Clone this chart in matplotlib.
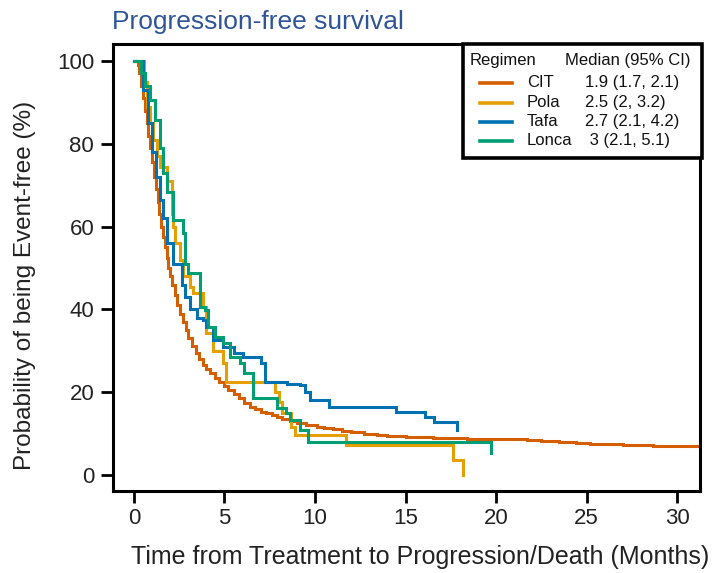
import matplotlib
matplotlib.use("Agg")
import matplotlib.pyplot as plt
from matplotlib.lines import Line2D
from matplotlib.patches import Rectangle

plt.rcParams['font.family'] = ['Liberation Sans', 'DejaVu Sans']

regimens = ["CIT", "Pola", "Tafa", "Lonca"]
medians = ["1.9 (1.7, 2.1)", "2.5 (2, 3.2)", "2.7 (2.1, 4.2)", " 3 (2.1, 5.1)"]
colors = ["#D55E00", "#E69F00", "#0072B2", "#009E73"]

cit_t = [0, 0.1, 0.2, 0.3, 0.4, 0.5, 0.6, 0.7, 0.8, 0.9, 1.0, 1.1, 1.2, 1.3, 1.4, 1.5, 1.6,
         1.7, 1.8, 1.9, 2.0, 2.1, 2.25, 2.4, 2.55, 2.7, 2.85, 3.0, 3.2, 3.4, 3.6, 3.8, 4.0,
         4.2, 4.45, 4.7, 4.95, 5.2, 5.5, 5.8, 6.1, 6.4, 6.7, 7.0, 7.3, 7.6, 7.9, 8.2, 8.6,
         9.0, 9.5, 10.1, 10.5, 11.0, 11.5, 12.0, 12.7, 13.4, 14.0, 14.5, 15.0, 15.6, 16.5,
         17.5, 18.4, 19.3, 20.5, 21.7, 22.5, 23.5, 24.4, 25.2, 27.0, 28.7, 31.3]
cit_s = [100, 100, 99, 97, 94, 91, 88, 85, 82, 79, 75.5, 72, 69, 66, 63, 60, 57.5,
         55, 52.5, 50, 48, 46, 43.5, 41, 39, 37, 35, 33, 31.2, 29.5, 28, 26.5, 25.5,
         24.6, 23.5, 22.5, 21.5, 20.5, 19.5, 18.5, 17.5, 16.5, 15.9, 15.3, 14.9, 14.5, 14.0, 13.5, 13.0,
         12.6, 12.1, 11.6, 11.3, 11.0, 10.7, 10.4, 10.0, 9.7, 9.5, 9.4, 9.3, 9.2, 9.0,
         8.9, 8.8, 8.7, 8.6, 8.5, 8.2, 8.0, 7.7, 7.5, 7.2, 7.0, 7.0]

pola_t = [0, 0.44, 0.55, 0.7, 0.9, 1.05, 1.25, 1.44, 1.8, 2.1, 2.15, 2.26, 2.54, 2.7, 3.1, 3.26,
          3.8, 4.0, 4.36, 4.9, 5.1, 7.8, 8.0, 8.2, 8.7, 8.9, 11.7, 17.6, 18.2, 18.2]
pola_s = [100, 100, 95, 89, 85, 81, 77, 74.4, 71, 63, 60, 56, 52, 48, 45.4, 44,
          40.6, 34.3, 30, 27, 22.5, 20, 17.6, 15, 11.6, 9.7, 7.2, 3.6, 0, 0]

tafa_t = [0, 0.2, 0.5, 0.77, 1.0, 1.2, 1.44, 1.6, 1.8, 2.15, 2.65, 2.8, 3.1, 3.5, 3.8, 4.0,
          4.36, 4.9, 5.5, 6.0, 7.0, 7.24, 8.44, 9.17, 9.45, 9.7, 10.8, 14.5, 16.1, 16.6,
          17.85, 17.85]
tafa_s = [100, 100, 93, 85, 78, 72, 66.4, 62, 56, 51, 46, 43, 40, 38, 37.4, 35.8,
          32.6, 31, 29.4, 28.6, 27, 22.5, 22.1, 21.7, 20.1, 18.1, 16.5, 15.3, 14.1, 12.9,
          10.9, 10.9]

lonca_t = [0, 0.15, 0.4, 0.6, 0.88, 1.16, 1.44, 1.6, 1.8, 2.15, 2.7, 2.8, 3.0, 3.65, 3.9, 4.1,
           4.5, 4.9, 5.3, 5.86, 6.1, 6.6, 7.9, 8.4, 8.6, 9.17, 9.6, 19.7, 19.7]
lonca_s = [100, 100, 97, 94, 90.5, 85.7, 79, 73, 68.4, 61.6, 58.5, 51, 48.8, 40.6, 39.9, 35.8,
           33.3, 31.9, 28.5, 27, 24.6, 18.5, 16.2, 14.9, 13.3, 10.9, 8.0, 5.3, 5.3]

xticks = [0, 5, 10, 15, 20, 25, 30]
yticks = [0, 20, 40, 60, 80, 100]

fig = plt.figure(figsize=(7.12, 5.73), dpi=100)
ax = fig.add_axes([113 / 712, 1 - 491 / 573, 587 / 712, 447 / 573])

series = [(cit_t, cit_s), (pola_t, pola_s), (tafa_t, tafa_s), (lonca_t, lonca_s)]
for i in range(4):
    t, s = series[i]
    ax.step(t, s, where='post', color=colors[i], lw=2.2, solid_joinstyle='miter')

ax.set_xlim(-1.16, 31.27)
ax.set_ylim(-3.86, 104.1)
ax.set_xticks(xticks)
ax.set_yticks(yticks)
ax.tick_params(axis='both', direction='out', length=8.5, width=2.0, labelsize=16,
               color='black', labelcolor='#222222')
ax.tick_params(axis='x', pad=4)
ax.tick_params(axis='y', pad=5)
for sp in ax.spines.values():
    sp.set_linewidth(2.2)
    sp.set_color('black')

# legend box
lx0, lx1, ly0, ly1 = 0.596, 1.003, 0.745, 1.0
ax.add_patch(Rectangle((lx0, ly0), lx1 - lx0, ly1 - ly0, transform=ax.transAxes,
                       fill=True, facecolor='white', edgecolor='black', lw=2.6,
                       clip_on=False, zorder=5))
fs = 12
ax.text(0.608, 0.964, "Regimen", transform=ax.transAxes, fontsize=fs, va='center',
        ha='left', zorder=6, color='#111111')
ax.text(0.770, 0.964, "Median (95% CI)", transform=ax.transAxes, fontsize=fs, va='center',
        ha='left', zorder=6, color='#111111')
row_y = [0.913, 0.869, 0.826, 0.783]
for i in range(4):
    ax.add_line(Line2D([0.625, 0.680], [row_y[i], row_y[i]], transform=ax.transAxes,
                       color=colors[i], lw=2.6, zorder=6, clip_on=False))
    ax.text(0.705, row_y[i], regimens[i], transform=ax.transAxes, fontsize=fs,
            va='center', ha='left', zorder=6, color='#111111')
    ax.text(0.804, row_y[i], medians[i], transform=ax.transAxes, fontsize=fs,
            va='center', ha='left', zorder=6, color='#111111')

fig.text(112 / 712, 1 - 29 / 573, "Progression-free survival", fontsize=19,
         color='#2F5597', ha='left', va='baseline')
fig.text(420 / 712, 1 - 557 / 573, "Time from Treatment to Progression/Death (Months)",
         fontsize=18, ha='center', va='center', color='#222222')
fig.text(25 / 712, 1 - 285 / 573, "Probability of being Event-free (%)", fontsize=17.5,
         rotation=90, ha='center', va='center', color='#222222')

fig.savefig("out.png", dpi=100)
